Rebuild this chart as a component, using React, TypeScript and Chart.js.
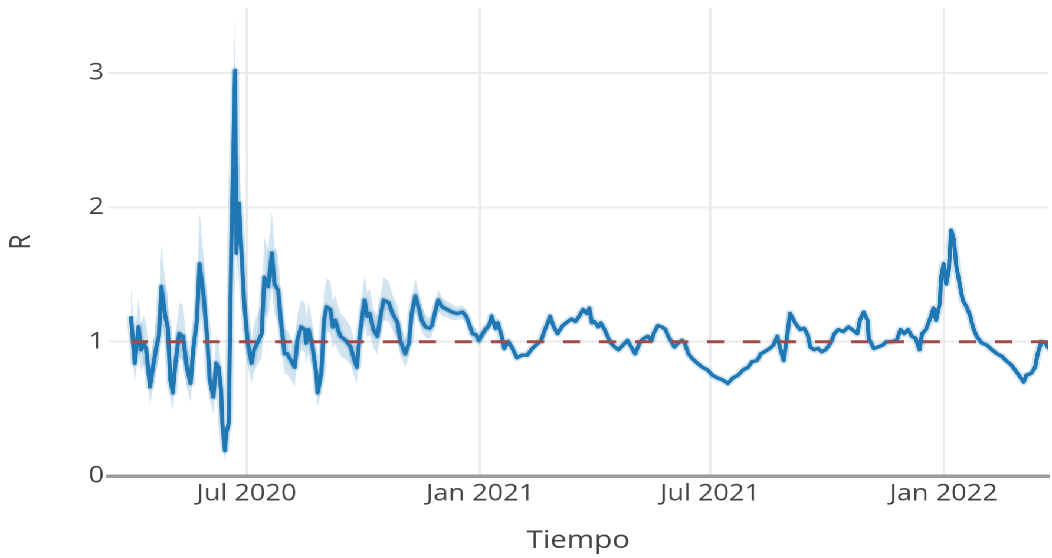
import { useEffect, useRef } from "react";
import { Chart, registerables } from "chart.js";

Chart.register(...registerables);

// Day numbers counted from 2020-03-01 (day 0)
const START_DATE = "2020-03-01";

const days = [
  31, 34, 37, 39, 41, 43, 46, 48, 51, 53,
  55, 58, 60, 62, 64, 66, 69, 72, 75, 78,
  80, 83, 85, 88, 91, 93, 96, 98, 100, 102,
  103, 105, 106, 108, 110, 113, 114, 116, 118, 120,
  123, 126, 128, 131, 134, 136, 139, 142, 144, 147,
  149, 152, 154, 157, 160, 162, 165, 168, 169, 171,
  174, 177, 178, 181, 183, 185, 188, 190, 192, 194,
  196, 200, 204, 207, 209, 211, 215, 217, 219, 222,
  225, 227, 230, 234, 237, 241, 243, 247, 250, 252,
  255, 258, 260, 263, 266, 268, 271, 273, 276, 280,
  284, 288, 292, 295, 297, 300, 303, 305, 308, 310,
  313, 315, 318, 320, 323, 325, 328, 331,
  335, 339, 343, 347, 350, 354, 357, 360, 361, 364,
  367, 371, 375, 378, 381, 384, 387, 390, 392, 394,
  396, 399, 401, 404, 407, 409, 412, 415, 417, 420,
  422, 425, 428, 432, 435, 438, 441, 443, 446, 449,
  452, 454, 456, 459, 462, 465, 467, 470, 473, 477,
  481, 485, 489, 493, 497, 501, 505, 509, 513, 517,
  520, 524, 527, 530, 534, 537, 540, 542, 545, 548,
  550, 554, 558, 561, 564, 566, 569, 572, 575, 578,
  582, 585, 588, 592, 596, 599, 603, 605, 608, 611,
  612, 616, 619, 623, 626, 630, 634, 637, 640, 643,
  646, 649, 652, 654, 657, 659, 661, 663, 665, 668,
  669, 671, 673, 675, 677, 679, 681, 684, 686, 689,
  692, 694, 697, 701, 705, 709, 713, 717, 720, 724,
  728, 731, 734, 736, 740, 743, 745, 748, 751, 753,
  756,
];

const rValues = [
  1.19, 0.84, 1.11, 0.94, 0.99, 0.94, 0.665, 0.79, 0.96, 1.04,
  1.41, 1.19, 1.11, 0.715, 0.62, 0.84, 1.06, 1.04, 0.81, 0.69,
  0.94, 1.16, 1.58, 1.36, 1.04, 0.715, 0.59, 0.84, 0.81, 0.64,
  0.39, 0.19, 0.32, 0.39, 1.68, 3.02, 1.66, 2.03, 1.68, 1.31,
  0.99, 0.84, 0.94, 1.0, 1.06, 1.48, 1.41, 1.66, 1.43, 1.38,
  1.16, 0.91, 0.91, 0.86, 0.81, 1.01, 1.11, 1.09, 0.99, 1.09,
  0.96, 0.765, 0.62, 0.765, 1.16, 1.26, 1.24, 1.11, 1.16, 1.09,
  1.04, 1.01, 0.96, 0.86, 0.81, 1.04, 1.31, 1.19, 1.21, 1.09,
  1.04, 1.16, 1.31, 1.29, 1.21, 1.14, 1.01, 0.91, 0.99, 1.21,
  1.34, 1.24, 1.16, 1.11, 1.1, 1.12, 1.24, 1.31, 1.26, 1.24,
  1.22, 1.21, 1.22, 1.19, 1.14, 1.06, 1.05, 1.01, 1.06, 1.09,
  1.12, 1.19, 1.1, 1.14, 1.04, 0.95, 1.0, 0.96,
  0.88, 0.9, 0.9, 0.95, 0.975, 1.01, 1.09, 1.16, 1.19, 1.11,
  1.06, 1.12, 1.15, 1.17, 1.15, 1.19, 1.24, 1.21, 1.25, 1.14,
  1.15, 1.11, 1.14, 1.09, 1.025, 0.99, 0.96, 0.94, 0.96, 0.99,
  1.01, 0.96, 0.91, 1.0, 1.025, 1.04, 1.01, 1.07, 1.12, 1.11,
  1.09, 1.04, 1.01, 0.96, 0.99, 1.01, 0.99, 0.91, 0.875, 0.84,
  0.81, 0.79, 0.75, 0.73, 0.715, 0.69, 0.73, 0.75, 0.79, 0.81,
  0.85, 0.86, 0.91, 0.925, 0.95, 0.975, 1.04, 0.96, 0.86, 1.06,
  1.21, 1.14, 1.09, 1.1, 1.05, 0.96, 0.94, 0.95, 0.925, 0.94,
  0.99, 1.06, 1.09, 1.075, 1.11, 1.09, 1.06, 1.16, 1.22, 1.16,
  1.025, 0.95, 0.96, 0.975, 1.0, 1.0, 1.01, 1.09, 1.06, 1.09,
  1.04, 1.025, 0.94, 1.06, 1.09, 1.14, 1.19, 1.25, 1.16, 1.29,
  1.48, 1.58, 1.43, 1.53, 1.83, 1.76, 1.56, 1.41, 1.31, 1.26,
  1.19, 1.11, 1.04, 0.99, 0.975, 0.94, 0.91, 0.89, 0.86, 0.83,
  0.78, 0.74, 0.7, 0.75, 0.765, 0.81, 0.91, 1.0, 0.99, 0.96,
  0.93,
];

// Credible interval (visible band) for the first days of the series
const bandLow = [
  1.0, 0.7, 0.93, 0.78, 0.83, 0.78, 0.53, 0.64, 0.8, 0.87,
  1.18, 0.99, 0.92, 0.58, 0.49, 0.69, 0.88, 0.86, 0.66, 0.55,
  0.77, 0.96, 1.31, 1.12, 0.85, 0.57, 0.46, 0.68, 0.65, 0.5,
  0.29, 0.11, 0.22, 0.28, 1.4, 2.6, 1.4, 1.72, 1.42, 1.1,
  0.82, 0.69, 0.78, 0.83, 0.88, 1.24, 1.18, 1.4, 1.2, 1.16,
  0.97, 0.76, 0.76, 0.71, 0.67, 0.85, 0.94, 0.92, 0.83, 0.92,
  0.81, 0.64, 0.51, 0.64, 0.99, 1.08, 1.06, 0.95, 0.99, 0.93,
  0.89, 0.87, 0.83, 0.74, 0.69, 0.9, 1.14, 1.03, 1.05, 0.95,
  0.91, 1.02, 1.16, 1.15, 1.08, 1.02, 0.9, 0.81, 0.89, 1.1,
  1.22, 1.14, 1.07, 1.03, 1.02, 1.04, 1.16, 1.23, 1.19, 1.18,
  1.16, 1.16, 1.17, 1.14, 1.09, 1.01, 1.0, 0.97, 1.02, 1.05,
  1.08, 1.15, 1.06, 1.1, 1.0, 0.92, 0.97, 0.93,
];

const bandHigh = [
  1.42, 1.02, 1.33, 1.14, 1.2, 1.14, 0.82, 0.97, 1.16, 1.26,
  1.72, 1.45, 1.35, 0.89, 0.78, 1.03, 1.29, 1.27, 0.99, 0.86,
  1.15, 1.42, 1.97, 1.66, 1.28, 0.89, 0.75, 1.04, 1.0, 0.8,
  0.5, 0.27, 0.42, 0.52, 2.05, 3.47, 2.0, 2.4, 2.0, 1.58,
  1.2, 1.02, 1.14, 1.21, 1.28, 1.78, 1.69, 1.97, 1.71, 1.64,
  1.38, 1.09, 1.09, 1.03, 0.97, 1.2, 1.31, 1.29, 1.17, 1.29,
  1.13, 0.91, 0.75, 0.91, 1.36, 1.47, 1.45, 1.3, 1.35, 1.27,
  1.21, 1.17, 1.11, 1.0, 0.94, 1.2, 1.5, 1.37, 1.39, 1.25,
  1.19, 1.32, 1.48, 1.45, 1.35, 1.27, 1.13, 1.02, 1.1, 1.33,
  1.47, 1.35, 1.26, 1.2, 1.18, 1.2, 1.32, 1.39, 1.33, 1.3,
  1.28, 1.26, 1.27, 1.24, 1.19, 1.11, 1.1, 1.05, 1.1, 1.13,
  1.16, 1.23, 1.14, 1.18, 1.08, 0.99, 1.03, 0.99,
];

const tickDays = [122, 306, 487, 671];
const tickLabels = ["Jul 2020", "Jan 2021", "Jul 2021", "Jan 2022"];
const yTicks = [0, 1, 2, 3];
const REFERENCE_R = 1;

const X_MIN = 13;
const X_MAX = 753.5;
const Y_MIN = 0;
const Y_MAX = 3.485;

const PAGE_W = 1052;
const PAGE_H = 558;
const STRETCH = 1.18;
const FONT = '"Open Sans", "DejaVu Sans", sans-serif';
const TEXT = "#444444";

export default function App() {
  const ref = useRef<HTMLCanvasElement | null>(null);

  useEffect(() => {
    if (!ref.current) return;
    const lineData = days.map((d, i) => ({ x: d, y: rValues[i] }));
    const lowData = bandLow.map((v, i) => ({ x: days[i], y: v }));
    const highData = bandHigh.map((v, i) => ({ x: days[i], y: v }));
    const refData = [
      { x: days[0], y: REFERENCE_R },
      { x: days[days.length - 1], y: REFERENCE_R },
    ];

    const chart = new Chart(ref.current, {
      type: "line",
      data: {
        datasets: [
          {
            label: "lower",
            data: lowData,
            borderColor: "rgba(0,0,0,0)",
            borderWidth: 0,
            pointRadius: 0,
            fill: false,
            order: 5,
          },
          {
            label: "upper",
            data: highData,
            borderColor: "rgba(0,0,0,0)",
            borderWidth: 0,
            pointRadius: 0,
            fill: "-1",
            backgroundColor: "rgba(31,119,180,0.2)",
            order: 4,
          },
          {
            label: "halo",
            data: lineData,
            borderColor: "rgba(31,119,180,0.2)",
            borderWidth: 7,
            pointRadius: 0,
            fill: false,
            borderJoinStyle: "round",
            order: 3,
          },
          {
            label: "R",
            data: lineData,
            borderColor: "#1f77b4",
            borderWidth: 3.5,
            pointRadius: 0,
            fill: false,
            borderJoinStyle: "round",
            order: 2,
          },
          {
            label: "R = 1",
            data: refData,
            borderColor: "#a04a4a",
            borderWidth: 3,
            borderDash: [14.4, 16.1],
            pointRadius: 0,
            fill: false,
            order: 1,
          },
        ],
      },
      options: {
        animation: false,
        responsive: true,
        maintainAspectRatio: false,
        devicePixelRatio: 2,
        events: [],
        layout: { padding: { top: 8, left: 0, right: 0, bottom: 0 } },
        plugins: {
          legend: { display: false },
          tooltip: { enabled: false },
        },
        scales: {
          x: {
            type: "linear",
            min: X_MIN,
            max: X_MAX,
            afterBuildTicks: (s: any) => {
              s.ticks = tickDays.map((v) => ({ value: v }));
            },
            afterFit: (s: any) => {
              s.height = PAGE_H - 476;
              s.paddingLeft = 0;
              s.paddingRight = 0;
            },
            ticks: {
              autoSkip: false,
              maxRotation: 0,
              padding: 4,
              color: TEXT,
              font: { family: FONT, size: 23 },
              callback: (v: any) => {
                const i = tickDays.indexOf(Number(v));
                return i >= 0 ? tickLabels[i] : "";
              },
            },
            grid: { color: "rgb(235,235,235)", lineWidth: 2, drawTicks: false },
            border: { display: true, color: "#9c9c9c", width: 3.5 },
            title: {
              display: true,
              text: "Tiempo",
              color: TEXT,
              font: { family: FONT, size: 25, lineHeight: 1 },
              padding: { top: 0, bottom: 4.5 },
            },
          },
          y: {
            type: "linear",
            min: Y_MIN,
            max: Y_MAX,
            afterBuildTicks: (s: any) => {
              s.ticks = yTicks.map((v) => ({ value: v }));
            },
            afterFit: (s: any) => {
              s.width = 108 / STRETCH;
              s.paddingTop = 0;
              s.paddingBottom = 0;
            },
            ticks: {
              padding: 3.4,
              color: TEXT,
              font: { family: FONT, size: 23 },
              callback: (v: any) => String(v),
            },
            grid: { color: "rgb(235,235,235)", lineWidth: 2, drawTicks: false },
            border: { display: false },
            title: {
              display: true,
              text: "R",
              color: TEXT,
              font: { family: FONT, size: 25, lineHeight: 1 },
              padding: { top: 6, bottom: 0 },
            },
          },
        },
      },
    } as any);

    return () => chart.destroy();
  }, []);

  return (
    <div
      data-start={START_DATE}
      style={{
        position: "fixed",
        left: 0,
        top: 0,
        width: PAGE_W / STRETCH,
        height: PAGE_H,
        transform: `scaleX(${STRETCH})`,
        transformOrigin: "0 0",
        background: "#ffffff",
      }}
    >
      <canvas ref={ref} />
    </div>
  );
}
